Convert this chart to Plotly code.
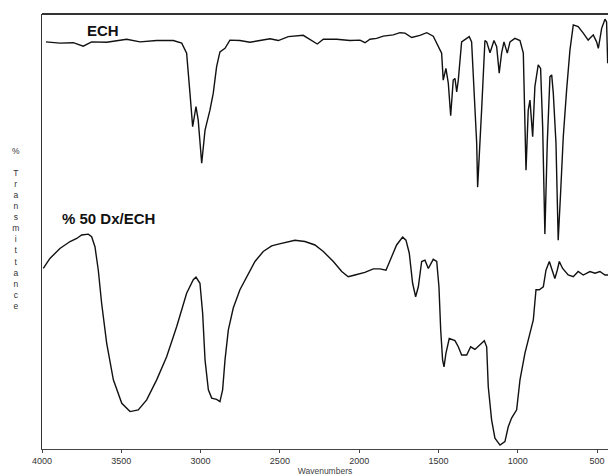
import plotly.graph_objects as go

# ECH spectrum (wavenumber cm-1, relative transmittance)
ech_wn = [3975, 3887, 3803, 3740, 3687, 3592, 3466, 3382, 3277, 3172, 3119, 3088, 3067, 3050,
          3029, 3015, 2993, 2972, 2941, 2920, 2899, 2878, 2846, 2815, 2752, 2689, 2626, 2562,
          2510, 2447, 2353, 2310, 2264, 2226, 2142, 2058, 1995, 1963, 1932, 1890, 1848, 1785,
          1743, 1711, 1669, 1617, 1574, 1533, 1511, 1491, 1480, 1470, 1453, 1438, 1423, 1407,
          1396, 1385, 1375, 1354, 1333, 1306, 1291, 1276, 1259, 1253, 1243, 1228, 1207, 1196,
          1175, 1150, 1133, 1117, 1102, 1087, 1066, 1049, 1018, 986, 965, 948, 934, 923,
          906, 892, 871, 856, 843, 829, 814, 797, 786, 776, 759, 745, 730, 713,
          692, 671, 650, 619, 587, 556, 524, 503, 492, 471, 450, 440, 433]
ech_t = [93.6, 93.3, 93.4, 92.6, 93.6, 93.5, 94.2, 93.6, 93.9, 93.9, 93.3, 91.0, 81.8, 74.1,
         78.7, 75.6, 65.7, 73.3, 77.9, 81.8, 87.9, 91.3, 92.1, 94.0, 93.9, 93.5, 93.9, 94.3,
         93.9, 94.8, 95.1, 94.2, 93.1, 94.2, 94.2, 93.9, 94.0, 93.4, 94.2, 94.4, 94.9, 95.2,
         95.7, 95.6, 94.6, 95.1, 95.7, 94.9, 93.3, 91.7, 91.0, 84.8, 87.5, 84.1, 76.6, 84.8,
         85.2, 82.1, 84.8, 93.6, 94.2, 94.8, 93.6, 81.8, 70.3, 60.2, 66.4, 77.9, 93.9, 93.6,
         91.1, 93.9, 92.5, 86.4, 91.0, 93.6, 91.0, 93.6, 94.4, 93.9, 91.0, 64.1, 77.9, 80.2,
         71.8, 83.3, 88.3, 87.5, 74.1, 49.4, 70.3, 85.6, 86.0, 81.8, 70.3, 48.0, 58.8, 71.8,
         82.5, 91.7, 97.5, 97.1, 95.6, 94.0, 95.2, 93.6, 92.1, 96.7, 98.8, 98.2, 88.7]

# % 50 Dx/ECH spectrum
dx_wn = [3992, 3950, 3887, 3823, 3781, 3750, 3708, 3687, 3666, 3645, 3624, 3592, 3550, 3497,
         3445, 3393, 3340, 3277, 3214, 3151, 3088, 3046, 3029, 3004, 2987, 2972, 2951, 2930,
         2899, 2878, 2861, 2846, 2825, 2794, 2752, 2709, 2657, 2605, 2552, 2510, 2468, 2405,
         2342, 2279, 2226, 2163, 2110, 2069, 2027, 1964, 1911, 1869, 1831, 1806, 1764, 1726,
         1705, 1684, 1663, 1644, 1627, 1606, 1585, 1564, 1533, 1511, 1497, 1486, 1474, 1465,
         1453, 1432, 1396, 1375, 1354, 1322, 1297, 1270, 1238, 1211, 1196, 1186, 1165, 1144,
         1112, 1081, 1060, 1039, 1007, 986, 955, 923, 902, 885, 864, 839, 822, 801,
         786, 766, 751, 738, 717, 682, 650, 619, 587, 545, 513, 482, 450, 431]
dx_t = [41.5, 43.8, 46.1, 47.7, 48.4, 49.2, 49.4, 48.8, 46.5, 41.1, 33.5, 24.3, 15.9, 10.5,
        8.6, 9.0, 11.3, 15.9, 21.2, 28.1, 35.8, 38.9, 39.5, 38.1, 31.2, 20.5, 13.6, 11.7,
        11.4, 10.9, 13.6, 20.5, 27.4, 32.4, 36.6, 39.6, 43.1, 45.4, 46.7, 47.1, 47.5, 48.0,
        47.7, 46.9, 45.4, 43.1, 40.8, 39.6, 40.0, 40.6, 41.4, 41.4, 41.1, 43.4, 46.9, 48.7,
        48.0, 45.0, 38.1, 35.0, 37.3, 43.1, 43.4, 41.5, 43.6, 43.1, 37.3, 27.4, 20.5, 18.9,
        22.0, 25.4, 24.9, 23.5, 21.6, 21.6, 23.5, 22.9, 23.9, 24.9, 23.5, 14.3, 6.7, 2.5,
        0.9, 1.7, 5.1, 7.1, 9.0, 15.9, 22.0, 26.6, 29.7, 36.6, 36.6, 37.3, 41.1, 43.1,
        41.5, 39.2, 41.1, 43.1, 41.5, 40.0, 39.6, 40.8, 40.0, 40.8, 40.4, 40.8, 40.0, 40.0]

tick_vals = [4000, 3500, 3000, 2500, 2000, 1500, 1000, 500]
tick_text = ["4000", "3500", "3000", "2500", "2000", "1500", "1000", "500"]

line_style = dict(color="#111111", width=1.4)

fig = go.Figure()
fig.add_trace(go.Scatter(x=ech_wn, y=ech_t, mode="lines", line=line_style,
                         showlegend=False, hoverinfo="skip"))
fig.add_trace(go.Scatter(x=dx_wn, y=dx_t, mode="lines", line=line_style,
                         showlegend=False, hoverinfo="skip"))

fig.update_layout(
    width=608, height=476,
    margin=dict(l=42, r=0, t=14, b=27),
    paper_bgcolor="white", plot_bgcolor="white",
    font=dict(family="Liberation Sans, Arial, sans-serif", color="#222222"),
    xaxis=dict(
        range=[4000, 431], autorange=False,
        tickmode="array", tickvals=tick_vals, ticktext=tick_text,
        ticks="outside", ticklen=3, tickwidth=1, tickcolor="#444444",
        tickfont=dict(size=9, color="#333333"),
        ticklabeloverflow="allow",
        showgrid=False, zeroline=False,
        showline=True, linecolor="#444444", linewidth=1.3,
        title=dict(text="Wavenumbers", font=dict(size=8.5, color="#444444"), standoff=3),
    ),
    yaxis=dict(
        range=[0, 100], autorange=False,
        showticklabels=False, ticks="", showgrid=False, zeroline=False,
        showline=True, linecolor="#333333", linewidth=1.2,
    ),
)

# top frame line
fig.add_shape(type="line", xref="paper", yref="paper", x0=0, x1=1, y0=1, y1=1,
              line=dict(color="#333333", width=2))

fig.add_annotation(text="<b>ECH</b>", xref="paper", yref="paper", x=0.076, y=0.963,
                   xanchor="left", yanchor="middle", showarrow=False,
                   font=dict(size=15, color="#111111", family="Liberation Sans, Arial, sans-serif"))
fig.add_annotation(text="<b>% 50 Dx/ECH</b>", xref="paper", yref="paper", x=0.031, y=0.531,
                   xanchor="left", yanchor="middle", showarrow=False,
                   font=dict(size=15, color="#111111", family="Liberation Sans, Arial, sans-serif"))

ylabel = "%<br><br>" + "<br>".join(list("Transmittance"))
fig.add_annotation(text=ylabel, xref="paper", yref="paper", x=-0.046, y=0.508,
                   xanchor="center", yanchor="middle", showarrow=False, align="center",
                   font=dict(size=8.5, color="#333333"))

fig.write_html("out.html",
               config={"displayModeBar": False},
               post_script="document.body.style.margin='0';document.body.style.overflow='hidden';")
